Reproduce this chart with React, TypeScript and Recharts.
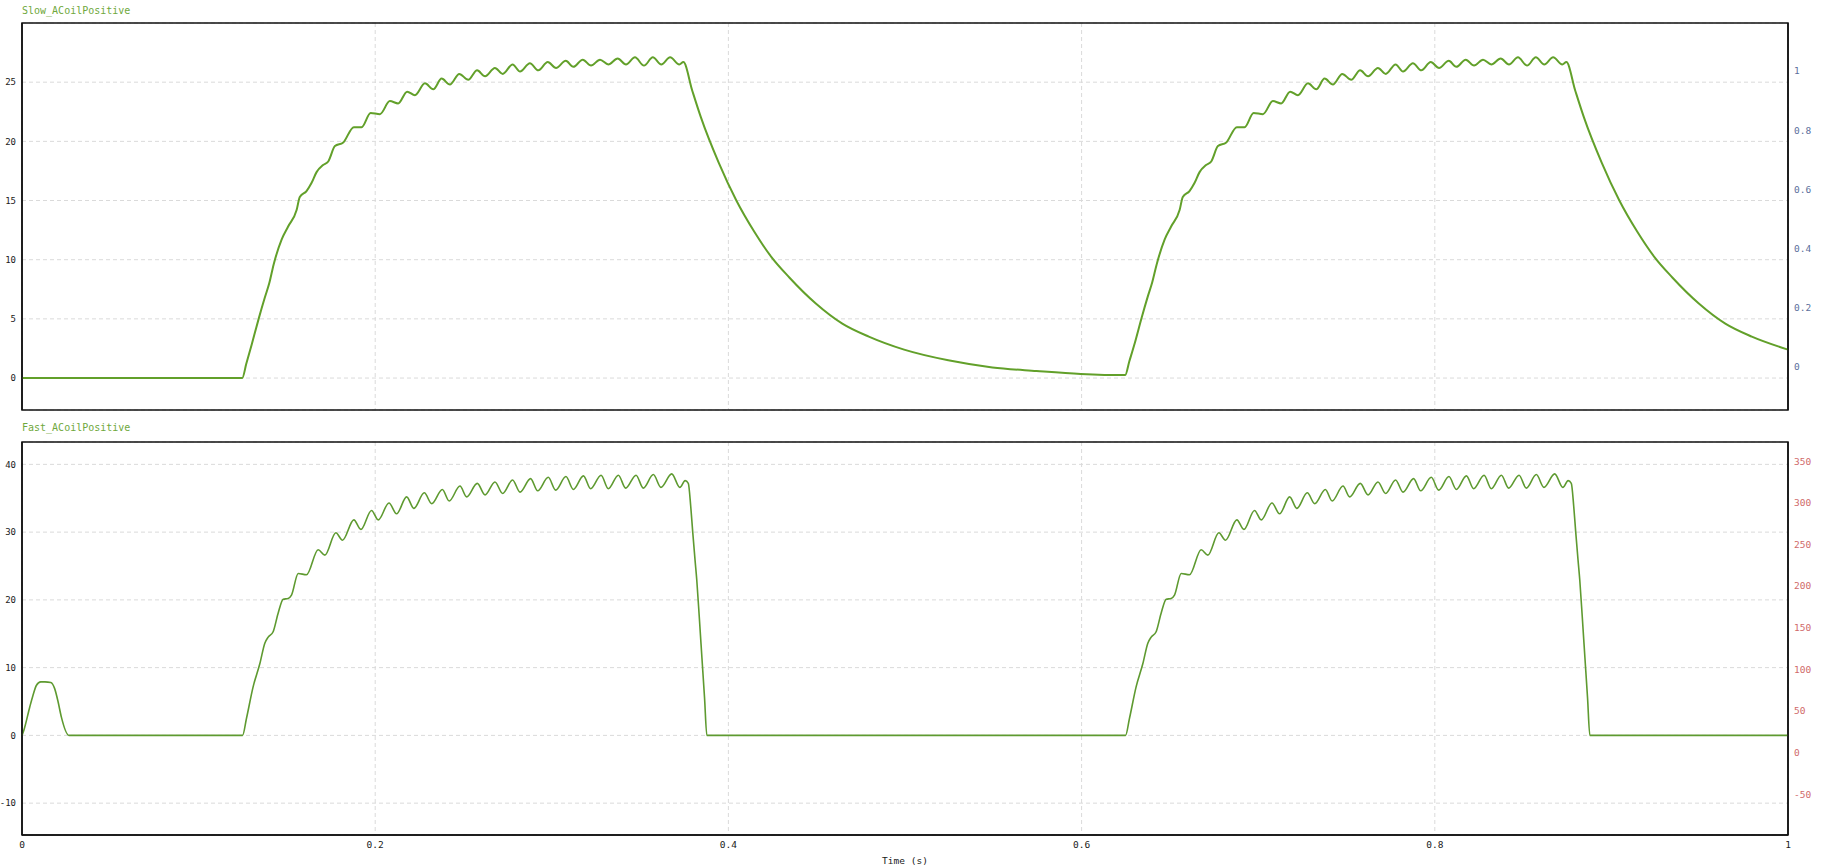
import React from 'react';
import { LineChart, Line, XAxis, YAxis, CartesianGrid, ReferenceArea } from 'recharts';

// time (s) / value pairs
const slowCycle1: [number, number][] = [
  [0, 0], [0.1247, 0], [0.127, 1.2], [0.13, 2.8], [0.134, 5.0], [0.1375, 6.8],
  [0.14, 8.0], [0.1425, 9.6], [0.147, 11.7], [0.1507, 12.8], [0.1555, 14.2],
  [0.1573, 15.3], [0.1611, 15.8], [0.164, 16.5], [0.1668, 17.4], [0.1705, 18.0],
  [0.1734, 18.3], [0.1772, 19.6], [0.1819, 19.9], [0.1879, 21.2], [0.1923, 21.2],
  [0.1974, 22.4], [0.2027, 22.3], [0.2083, 23.4], [0.213, 23.2], [0.2181, 24.2],
  [0.2225, 23.9], [0.2282, 24.9], [0.2329, 24.4], [0.2376, 25.3], [0.2423, 24.8],
  [0.2476, 25.7], [0.2527, 25.2], [0.2577, 26.0], [0.2622, 25.5], [0.2678, 26.2],
  [0.2722, 25.7], [0.2778, 26.5], [0.282, 25.9], [0.2876, 26.6], [0.2924, 26.0],
  [0.2977, 26.7], [0.3024, 26.2], [0.3079, 26.8], [0.3122, 26.3], [0.3175, 26.9],
  [0.3222, 26.4], [0.3273, 26.9], [0.332, 26.5], [0.3373, 27.0], [0.342, 26.5],
  [0.3471, 27.1], [0.3522, 26.4], [0.3572, 27.1], [0.362, 26.5], [0.367, 27.1],
  [0.3722, 26.5], [0.3745, 26.7], [0.3795, 24.3], [0.3845, 22.0], [0.3945, 18.2],
  [0.4045, 15.0], [0.4145, 12.4], [0.4245, 10.2], [0.4345, 8.5], [0.4495, 6.3],
  [0.4645, 4.6], [0.4795, 3.5], [0.4995, 2.4], [0.5245, 1.5], [0.5495, 0.9],
  [0.5745, 0.6], [0.5995, 0.35],
];

const slowCycle2: [number, number][] = [
  [0.6247, 0.25], [0.627, 1.4], [0.63, 2.9], [0.634, 5.1], [0.6375, 6.9],
  [0.64, 8.1], [0.6425, 9.6], [0.647, 11.7], [0.6507, 12.8], [0.6555, 14.2],
  [0.6573, 15.3], [0.6611, 15.8], [0.664, 16.5], [0.6668, 17.4], [0.6705, 18.0],
  [0.6734, 18.3], [0.6772, 19.6], [0.6819, 19.9], [0.6879, 21.2], [0.6923, 21.2],
  [0.6974, 22.4], [0.7027, 22.3], [0.7083, 23.4], [0.713, 23.2], [0.7181, 24.2],
  [0.7225, 23.9], [0.7282, 24.9], [0.7329, 24.4], [0.7376, 25.3], [0.7423, 24.8],
  [0.7476, 25.7], [0.7527, 25.2], [0.7577, 26.0], [0.7622, 25.5], [0.7678, 26.2],
  [0.7722, 25.7], [0.7778, 26.5], [0.782, 25.9], [0.7876, 26.6], [0.7924, 26.0],
  [0.7977, 26.7], [0.8024, 26.2], [0.8079, 26.8], [0.8122, 26.3], [0.8175, 26.9],
  [0.8222, 26.4], [0.8273, 26.9], [0.832, 26.5], [0.8373, 27.0], [0.842, 26.5],
  [0.8471, 27.1], [0.8522, 26.4], [0.8572, 27.1], [0.862, 26.5], [0.867, 27.1],
  [0.8722, 26.5], [0.8745, 26.7], [0.8795, 24.3], [0.8845, 22.0], [0.8945, 18.2],
  [0.9045, 15.0], [0.9145, 12.4], [0.9245, 10.2], [0.9345, 8.5], [0.9495, 6.3],
  [0.9645, 4.6], [0.9795, 3.5], [1.0, 2.4],
];

const fastCycle1: [number, number][] = [
  [0, 0], [0.0011, 0.8], [0.0044, 4.2], [0.0062, 5.9], [0.0082, 7.4], [0.0106, 7.9],
  [0.013, 7.9], [0.0163, 7.8], [0.0185, 6.9], [0.0204, 5.0], [0.0223, 2.7],
  [0.0266, 0], [0.1249, 0], [0.1271, 2.5], [0.1309, 7.2], [0.1347, 10.6],
  [0.1375, 13.6], [0.1394, 14.5], [0.1422, 15.3], [0.145, 18.0], [0.1479, 20.1],
  [0.1507, 20.2], [0.1526, 20.7], [0.1564, 23.9], [0.1611, 23.7], [0.1677, 27.4],
  [0.1715, 26.6], [0.1777, 29.9], [0.1815, 28.8], [0.1879, 31.8], [0.1919, 30.4],
  [0.1979, 33.2], [0.2017, 31.8], [0.2078, 34.3], [0.2121, 32.7], [0.2178, 35.2],
  [0.2219, 33.5], [0.2278, 35.8], [0.232, 34.2], [0.238, 36.3], [0.2419, 34.6],
  [0.248, 36.8], [0.2518, 35.2], [0.2578, 37.2], [0.2622, 35.5], [0.2678, 37.4],
  [0.2722, 35.7], [0.2778, 37.7], [0.282, 35.9], [0.288, 37.9], [0.292, 36.1],
  [0.298, 38.1], [0.3022, 36.2], [0.308, 38.2], [0.3122, 36.3], [0.3179, 38.3],
  [0.322, 36.4], [0.3279, 38.4], [0.332, 36.4], [0.3377, 38.4], [0.3418, 36.5],
  [0.3477, 38.4], [0.3518, 36.5], [0.3575, 38.5], [0.3618, 36.6], [0.3679, 38.6],
  [0.3725, 36.6], [0.3755, 37.6], [0.3773, 37.2], [0.3787, 33.7], [0.3798, 30.0],
  [0.3811, 25.9], [0.3821, 22.9], [0.3835, 17.5], [0.385, 11.5], [0.3865, 5.5],
  [0.3878, 0],
];

const fastCycle2: [number, number][] = [
  [0.6249, 0], [0.6271, 2.5], [0.6309, 7.2], [0.6347, 10.6],
  [0.6375, 13.6], [0.6394, 14.5], [0.6422, 15.3], [0.645, 18.0], [0.6479, 20.1],
  [0.6507, 20.2], [0.6526, 20.7], [0.6564, 23.9], [0.6611, 23.7], [0.6677, 27.4],
  [0.6715, 26.6], [0.6777, 29.9], [0.6815, 28.8], [0.6879, 31.8], [0.6919, 30.4],
  [0.6979, 33.2], [0.7017, 31.8], [0.7078, 34.3], [0.7121, 32.7], [0.7178, 35.2],
  [0.7219, 33.5], [0.7278, 35.8], [0.732, 34.2], [0.738, 36.3], [0.7419, 34.6],
  [0.748, 36.8], [0.7518, 35.2], [0.7578, 37.2], [0.7622, 35.5], [0.7678, 37.4],
  [0.7722, 35.7], [0.7778, 37.7], [0.782, 35.9], [0.788, 37.9], [0.792, 36.1],
  [0.798, 38.1], [0.8022, 36.2], [0.808, 38.2], [0.8122, 36.3], [0.8179, 38.3],
  [0.822, 36.4], [0.8279, 38.4], [0.832, 36.4], [0.8377, 38.4], [0.8418, 36.5],
  [0.8477, 38.4], [0.8518, 36.5], [0.8575, 38.5], [0.8618, 36.6], [0.8679, 38.6],
  [0.8725, 36.6], [0.8755, 37.6], [0.8773, 37.2], [0.8787, 33.7], [0.8798, 30.0],
  [0.8811, 25.9], [0.8821, 22.9], [0.8835, 17.5], [0.885, 11.5], [0.8865, 5.5],
  [0.8878, 0], [1.0, 0],
];

const timeTicks = [0, 0.2, 0.4, 0.6, 0.8, 1];
const slowLeftTicks = [0, 5, 10, 15, 20, 25];
const slowRightTicks = [0, 0.2, 0.4, 0.6, 0.8, 1];
const fastLeftTicks = [-10, 0, 10, 20, 30, 40];
const fastRightTicks = [-50, 0, 50, 100, 150, 200, 250, 300, 350];

const slowLeftDomain: [number, number] = [-2.7, 30];
const slowRightDomain: [number, number] = [-0.145, 1.162];
const fastLeftDomain: [number, number] = [-14.7, 43.3];
const fastRightDomain: [number, number] = [-98.8, 373];

const MONO = '"DejaVu Sans Mono", "Liberation Mono", monospace';
const FRAME = { stroke: '#111', strokeWidth: 1.5 };
const leftTick = { fill: '#1a1a1a', fontSize: 9, fontFamily: MONO };

const toRows = (pairs: [number, number][]) => pairs.map(([t, v]) => ({ t, v }));
const slowData = toRows([...slowCycle1, ...slowCycle2]);
const fastData = toRows([...fastCycle1, ...fastCycle2]);

const titleStyle: React.CSSProperties = {
  position: 'absolute',
  left: 22,
  fontFamily: MONO,
  fontSize: 10,
  lineHeight: '12px',
  color: '#6fa83c',
};

export default function App() {
  return (
    <div
      style={{
        position: 'absolute',
        left: 0,
        top: 0,
        width: 1827,
        height: 867,
        background: '#fff',
        overflow: 'hidden',
      }}
    >
      <div style={{ ...titleStyle, top: 5 }}>Slow_ACoilPositive</div>
      <div style={{ position: 'absolute', left: 0, top: 0 }}>
        <LineChart
          width={1827}
          height={420}
          data={slowData}
          margin={{ top: 23, right: 0, bottom: 10, left: 0 }}
        >
          <CartesianGrid yAxisId="left" stroke="#dadada" strokeDasharray="4 3" />
          {/* time ticks kept for the vertical grid, labels hidden (only the lower plot shows them) */}
          <XAxis
            dataKey="t"
            type="number"
            domain={[0, 1]}
            ticks={timeTicks}
            interval={0}
            tick={{ fill: 'none', fontSize: 1 }}
            tickLine={false}
            height={0}
            axisLine={FRAME}
          />
          <YAxis
            yAxisId="left"
            type="number"
            domain={slowLeftDomain}
            ticks={slowLeftTicks}
            interval={0}
            width={22}
            tickLine={false}
            tickSize={4}
            tickMargin={2}
            axisLine={FRAME}
            allowDataOverflow
            tick={leftTick}
          />
          <YAxis
            yAxisId="right"
            orientation="right"
            type="number"
            domain={slowRightDomain}
            ticks={slowRightTicks}
            interval={0}
            width={39}
            tickLine={false}
            tickSize={4}
            tickMargin={2}
            axisLine={FRAME}
            allowDataOverflow
            tick={{ fill: '#5b6f9c', fontSize: 9.5, fontFamily: MONO }}
          />
          <Line
            yAxisId="left"
            dataKey="v"
            type="monotone"
            stroke="#62a02a"
            strokeWidth={2}
            dot={false}
            isAnimationActive={false}
          />
          <ReferenceArea
            yAxisId="left"
            x1={0}
            x2={1}
            y1={slowLeftDomain[0]}
            y2={slowLeftDomain[1]}
            fill="none"
            fillOpacity={0}
            stroke="#111"
            strokeWidth={1.5}
            ifOverflow="visible"
          />
        </LineChart>
      </div>

      <div style={{ ...titleStyle, top: 422 }}>Fast_ACoilPositive</div>
      <div style={{ position: 'absolute', left: 0, top: 430 }}>
        <LineChart
          width={1827}
          height={437}
          data={fastData}
          margin={{ top: 12, right: 0, bottom: 0, left: 0 }}
        >
          <CartesianGrid yAxisId="left" stroke="#dadada" strokeDasharray="4 3" />
          <XAxis
            dataKey="t"
            type="number"
            domain={[0, 1]}
            ticks={timeTicks}
            interval={0}
            height={32}
            tickLine={false}
            tickSize={4}
            tickMargin={2}
            axisLine={FRAME}
            tick={{ fill: '#1a1a1a', fontSize: 9.5, fontFamily: MONO }}
            label={{
              value: 'Time (s)',
              position: 'insideBottom',
              offset: 3,
              fill: '#1a1a1a',
              fontSize: 9.5,
              fontFamily: MONO,
            }}
          />
          <YAxis
            yAxisId="left"
            type="number"
            domain={fastLeftDomain}
            ticks={fastLeftTicks}
            interval={0}
            width={22}
            tickLine={false}
            tickSize={4}
            tickMargin={2}
            axisLine={FRAME}
            allowDataOverflow
            tick={leftTick}
          />
          <YAxis
            yAxisId="right"
            orientation="right"
            type="number"
            domain={fastRightDomain}
            ticks={fastRightTicks}
            interval={0}
            width={39}
            tickLine={false}
            tickSize={4}
            tickMargin={2}
            axisLine={FRAME}
            allowDataOverflow
            tick={{ fill: '#d06a6a', fontSize: 9.5, fontFamily: MONO }}
          />
          <Line
            yAxisId="left"
            dataKey="v"
            type="monotone"
            stroke="#5e9a30"
            strokeWidth={1.6}
            dot={false}
            isAnimationActive={false}
          />
          <ReferenceArea
            yAxisId="left"
            x1={0}
            x2={1}
            y1={fastLeftDomain[0]}
            y2={fastLeftDomain[1]}
            fill="none"
            fillOpacity={0}
            stroke="#111"
            strokeWidth={1.5}
            ifOverflow="visible"
          />
        </LineChart>
      </div>
    </div>
  );
}
